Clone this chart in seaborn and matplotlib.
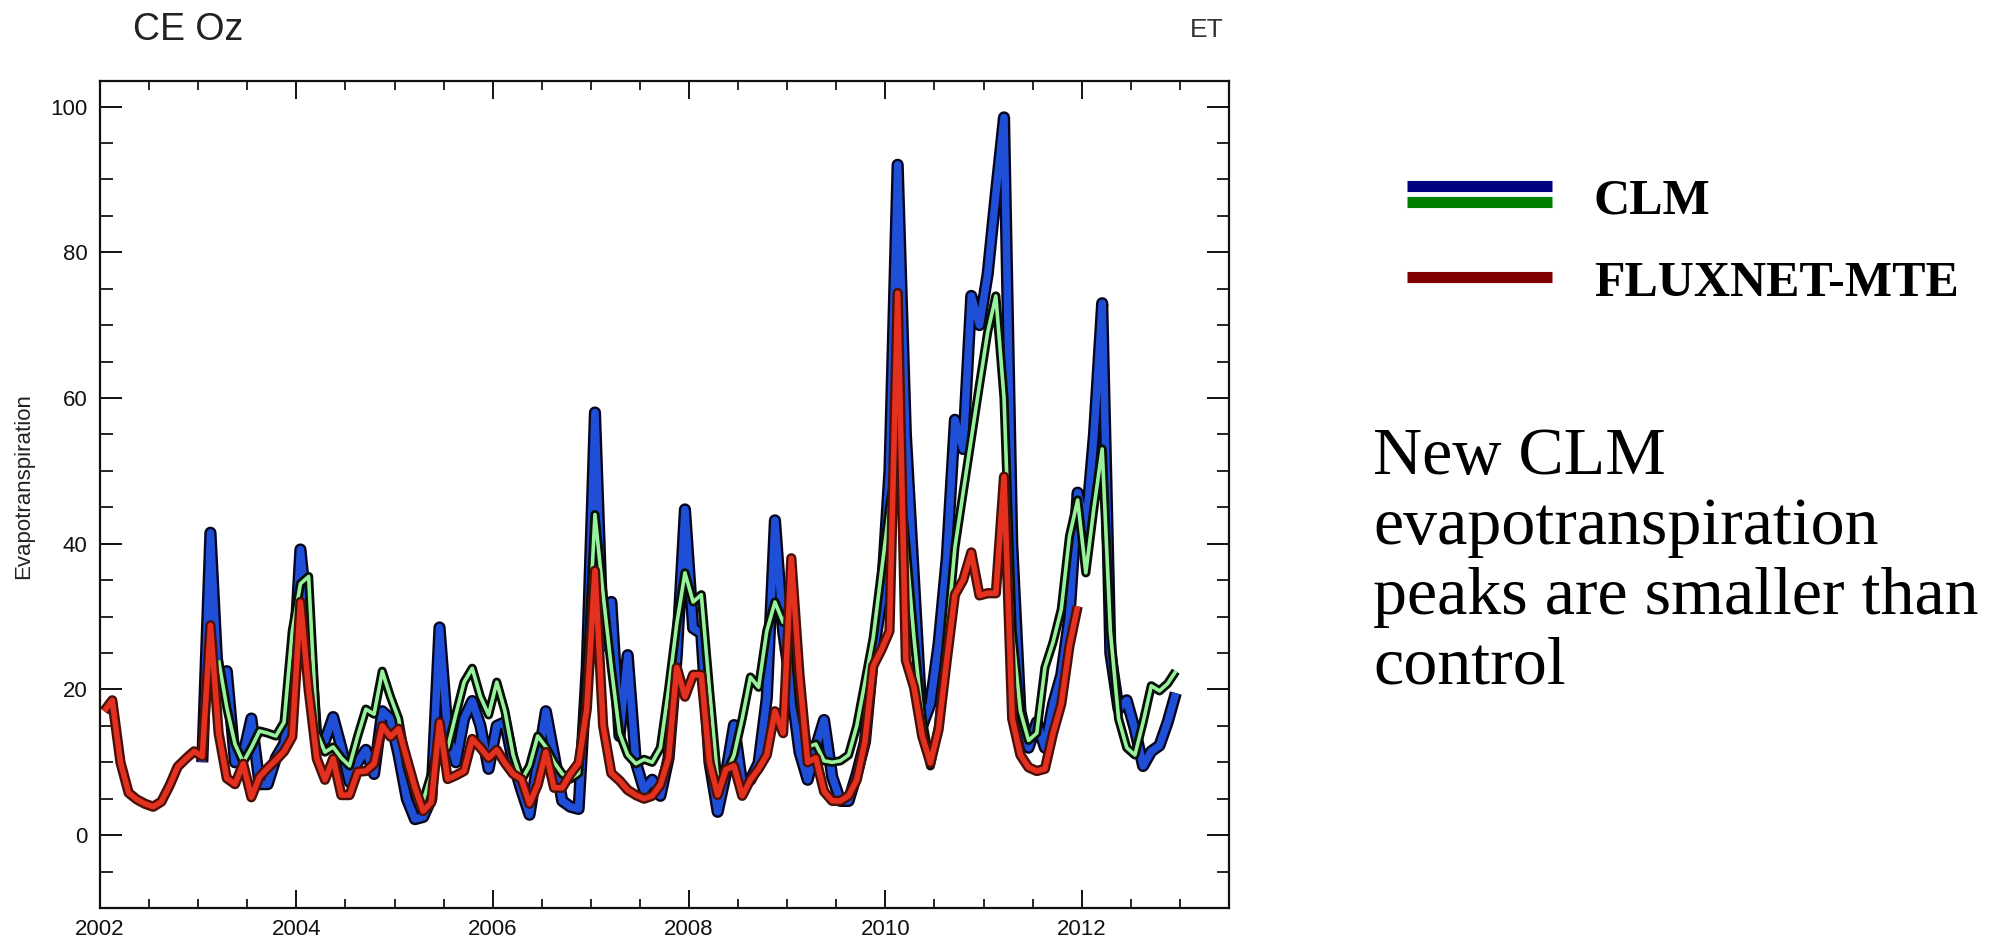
import numpy as np
import pandas as pd
import matplotlib
matplotlib.use("Agg")
import matplotlib.pyplot as plt
import matplotlib.patheffects as pe
from matplotlib.lines import Line2D
from matplotlib.ticker import MultipleLocator, FixedLocator
from matplotlib import font_manager
import seaborn as sns

# ---------------- data (monthly) ----------------
start_year = 2002
# FLUXNET-MTE: Jan 2002 .. Dec 2011
fluxnet_mte = [17.0, 18.5, 10.0, 5.8, 4.9, 4.3, 3.9, 4.6, 6.8, 9.4, 10.5, 11.5,
               10.8, 28.8, 14.0, 7.8, 7.0, 9.8, 5.2, 8.0, 9.2, 10.3, 11.5, 13.5,
               32.0, 20.0, 10.5, 7.6, 10.5, 5.5, 5.5, 8.7, 8.8, 9.8, 15.0, 13.5,
               14.6, 10.5, 6.5, 3.3, 4.5, 15.5, 7.7, 8.2, 8.8, 13.2, 12.0, 10.6,
               11.7, 9.9, 8.4, 7.7, 4.3, 6.9, 11.4, 6.5, 6.5, 8.4, 9.9, 17.3,
               36.3, 15.0, 8.5, 7.5, 6.2, 5.5, 5.0, 5.4, 6.9, 10.6, 23.0, 19.0,
               22.0, 22.0, 10.0, 5.5, 9.0, 9.5, 5.4, 7.6, 9.1, 11.0, 17.0, 14.0,
               38.0, 22.0, 10.0, 10.6, 6.0, 4.7, 4.7, 5.4, 7.6, 12.8, 23.2, 25.4,
               28.0, 74.4, 24.0, 20.3, 13.6, 9.9, 14.5, 24.0, 33.0, 35.0, 38.8, 32.9,
               33.2, 33.2, 49.2, 16.0, 11.0, 9.3, 8.8, 9.1, 14.0, 18.0, 26.0, 31.4]
fluxnet_start_month = 0

# CLM control (blue): Jan 2003 .. Dec 2012
clm_control = [10.0, 41.5, 19.5, 22.5, 10.0, 11.0, 16.0, 7.0, 7.0, 10.6, 12.5, 20.0,
               39.2, 28.0, 12.5, 13.0, 16.2, 12.0, 7.3, 10.0, 11.7, 8.4, 17.0, 16.0,
               11.0, 5.0, 2.2, 2.5, 5.0, 28.5, 14.0, 10.0, 16.0, 18.4, 15.0, 9.1,
               15.0, 15.5, 10.0, 6.2, 2.8, 10.0, 17.0, 11.0, 4.7, 3.9, 3.6, 23.0,
               58.0, 26.0, 32.0, 13.6, 24.7, 10.0, 6.2, 7.6, 5.4, 10.6, 24.7, 44.7,
               28.4, 27.7, 10.0, 3.2, 8.4, 15.1, 7.0, 7.6, 9.9, 18.8, 43.2, 28.0,
               20.0, 11.4, 7.6, 12.1, 15.8, 8.0, 4.7, 4.7, 8.4, 12.8, 24.7, 32.1,
               50.0, 92.0, 55.0, 35.0, 15.0, 18.0, 26.2, 38.0, 57.0, 53.0, 74.0, 70.0,
               77.0, 88.0, 98.5, 40.0, 17.0, 12.0, 15.5, 12.0, 18.0, 22.0, 30.0, 47.0,
               42.0, 55.0, 73.0, 25.0, 17.3, 18.5, 14.5, 9.5, 11.5, 12.3, 15.5, 19.5]
clm_control_start_month = 12

# new CLM (light green): Mar 2003 .. Dec 2012
clm_new = [24.0, 17.5, 12.5, 10.0, 12.0, 14.3, 14.0, 13.6, 15.5, 28.0, 34.5, 35.5,
           14.0, 11.4, 12.1, 10.6, 9.5, 13.6, 17.3, 16.6, 22.5, 19.0, 16.0, 9.5,
           5.5, 4.7, 8.4, 13.0, 12.0, 16.6, 21.0, 22.9, 19.0, 16.5, 21.0, 17.0,
           11.0, 7.5, 9.5, 13.6, 12.1, 10.0, 8.4, 7.7, 8.5, 22.0, 44.0, 33.0,
           23.0, 14.0, 11.0, 9.8, 10.4, 10.0, 12.0, 20.0, 29.0, 36.0, 32.0, 33.0,
           20.0, 7.6, 8.4, 11.0, 16.0, 21.7, 20.3, 28.0, 32.0, 29.2, 32.0, 18.0,
           12.1, 12.5, 10.2, 10.0, 10.2, 11.0, 15.0, 21.0, 27.0, 36.0, 45.0, 52.0,
           40.0, 27.0, 16.0, 9.5, 15.0, 27.0, 39.5, 47.0, 54.4, 61.8, 69.0, 74.0,
           60.0, 28.0, 17.0, 13.0, 14.0, 23.0, 26.5, 31.0, 41.0, 46.0, 36.0, 45.0,
           53.0, 28.0, 16.0, 12.0, 11.0, 15.5, 20.5, 19.8, 20.8, 22.5]
clm_new_start_month = 14

x_tick_values = [2002, 2004, 2006, 2008, 2010, 2012]
x_tick_labels = ["2002", "2004", "2006", "2008", "2010", "2012"]
y_tick_values = [0, 20, 40, 60, 80, 100]
y_tick_labels = ["0", "20", "40", "60", "80", "100"]
legend_labels = ["CLM", "FLUXNET-MTE"]
note_lines = ["New CLM", "evapotranspiration", "peaks are smaller than", "control"]
title_left = "CE Oz"
title_right = "ET"
y_label = "Evapotranspiration"


def month_axis(values, start_month):
    m = np.arange(len(values)) + start_month
    return start_year + (m + 0.5) / 12.0


def pick(*names):
    avail = {f.name for f in font_manager.fontManager.ttflist}
    for n in names:
        if n in avail:
            return n
    return "DejaVu Sans"


sns.set_theme(style="ticks")
sans = pick("Liberation Sans", "Arial", "DejaVu Sans")
narrow = pick("Liberation Sans Narrow", "Liberation Sans", "DejaVu Sans")
serif = pick("Liberation Serif", "Times New Roman", "DejaVu Serif")
plt.rcParams["font.family"] = [sans, "DejaVu Sans"]

W, H = 1993, 946
fig = plt.figure(figsize=(W / 100, H / 100), dpi=100)
fig.patch.set_facecolor("white")


def fx(px):
    return px / W


def fy(py):
    return 1 - py / H


ax_l, ax_r, ax_t, ax_b = 100.0, 1229.0, 81.0, 908.0
ax = fig.add_axes([fx(ax_l), fy(ax_b), fx(ax_r - ax_l), (ax_b - ax_t) / H])
ax.set_facecolor("white")

df_ctrl = pd.DataFrame({"year": month_axis(clm_control, clm_control_start_month), "et": clm_control})
df_new = pd.DataFrame({"year": month_axis(clm_new, clm_new_start_month), "et": clm_new})
df_flux = pd.DataFrame({"year": month_axis(fluxnet_mte, fluxnet_start_month), "et": fluxnet_mte})

sns.lineplot(data=df_ctrl, x="year", y="et", ax=ax, color="#1f4fd6", linewidth=5.4,
             solid_joinstyle="round", solid_capstyle="butt",
             path_effects=[pe.Stroke(linewidth=8.8, foreground="#050520", joinstyle="round"), pe.Normal()])
sns.lineplot(data=df_new, x="year", y="et", ax=ax, color="#98f29c", linewidth=2.6,
             solid_joinstyle="round", solid_capstyle="butt",
             path_effects=[pe.Stroke(linewidth=6.6, foreground="#061006", joinstyle="round"), pe.Normal()])
sns.lineplot(data=df_flux, x="year", y="et", ax=ax, color="#e4301e", linewidth=4.0,
             solid_joinstyle="round", solid_capstyle="butt",
             path_effects=[pe.Stroke(linewidth=7.4, foreground="#4a1008", joinstyle="round"), pe.Normal()])

ax.set_xlim(2002, 2013.5)
ax.set_ylim(-10, 103.5)
ax.set_xlabel("")
ax.set_ylabel(y_label, fontsize=16, family=[narrow, "DejaVu Sans"], color="#222222")
ax.yaxis.set_label_coords(-0.058, 0.51)

ax.xaxis.set_major_locator(FixedLocator(x_tick_values))
ax.set_xticklabels(x_tick_labels)
ax.xaxis.set_minor_locator(MultipleLocator(0.5))
ax.yaxis.set_major_locator(FixedLocator(y_tick_values))
ax.set_yticklabels(y_tick_labels)
ax.yaxis.set_minor_locator(MultipleLocator(5))

for s in ax.spines.values():
    s.set_visible(True)
    s.set_color("#111111")
    s.set_linewidth(1.6)

ax.tick_params(axis="x", which="major", direction="in", length=13, width=1.4,
               top=True, bottom=True, labelsize=16, pad=8, colors="#111111")
ax.tick_params(axis="x", which="minor", direction="in", length=6.5, width=1.4,
               top=True, bottom=True)
ax.tick_params(axis="y", which="major", direction="in", length=16, width=1.4,
               left=True, right=True, labelsize=16, pad=9, colors="#111111")
ax.tick_params(axis="y", which="minor", direction="in", length=9, width=1.4,
               left=True, right=True)
ax.grid(False)

# header texts
fig.text(fx(133), fy(30), title_left, fontsize=27, family=[narrow, "DejaVu Sans"],
         ha="left", va="center", color="#222222")
fig.text(fx(1224), fy(30), title_right, fontsize=19, family=[narrow, "DejaVu Sans"],
         ha="right", va="center", color="#333333")

# legend (drawn on the figure)
leg_x0, leg_x1 = 1407, 1552
fig.add_artist(Line2D([fx(leg_x0), fx(leg_x1)], [fy(186.4), fy(186.4)], transform=fig.transFigure,
                      color="#000080", linewidth=8.0, solid_capstyle="butt"))
fig.add_artist(Line2D([fx(leg_x0), fx(leg_x1)], [fy(201.8), fy(201.8)], transform=fig.transFigure,
                      color="#008000", linewidth=8.0, solid_capstyle="butt"))
fig.add_artist(Line2D([fx(leg_x0), fx(leg_x1)], [fy(276.7), fy(276.7)], transform=fig.transFigure,
                      color="#800000", linewidth=8.0, solid_capstyle="butt"))
fig.text(fx(1594), fy(213), legend_labels[0], fontsize=36, family=serif, weight="bold",
         ha="left", va="baseline", color="black")
fig.text(fx(1594), fy(296), legend_labels[1], fontsize=36, family=serif, weight="bold",
         ha="left", va="baseline", color="black")

# note
note_baselines = [474, 544, 614, 684]
for line, b in zip(note_lines, note_baselines):
    fig.text(fx(1373), fy(b), line, fontsize=49, family=serif, ha="left", va="baseline",
             color="black")

fig.savefig("out.png", dpi=100, facecolor="white")
